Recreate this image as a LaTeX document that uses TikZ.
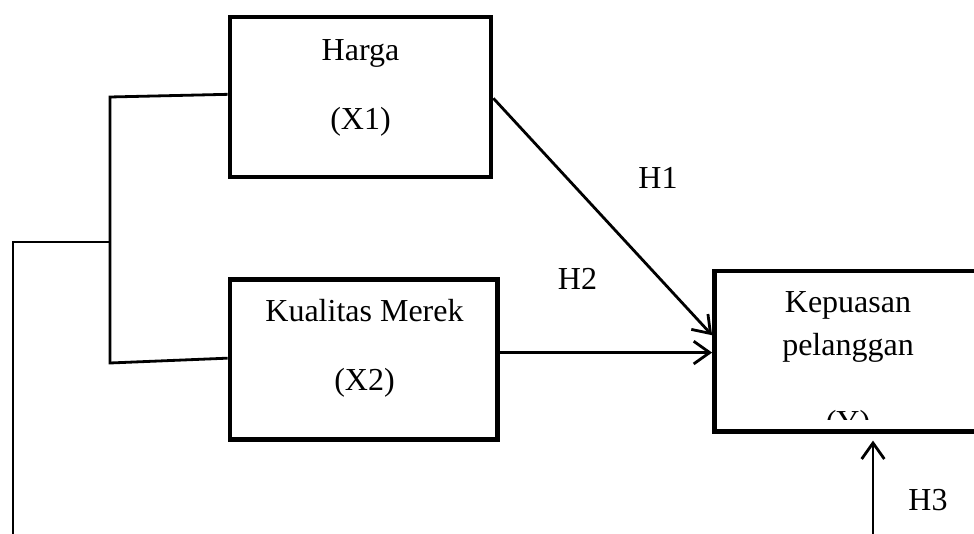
\documentclass[tikz,border=0pt]{standalone}
\usepackage{fontspec}
\setmainfont{Liberation Serif}
\usetikzlibrary{arrows.meta}
\begin{document}
\begin{tikzpicture}[x=0.75pt,y=-0.75pt,
  box/.style={draw, line width=3.6pt, rectangle, inner sep=0pt},
  conn/.style={line width=2.1pt},
  arr/.style={line width=2.1pt, -{Straight Barb[length=12pt,width=17pt,line width=2.1pt]}},
  txt/.style={anchor=base, inner sep=0pt, font=\fontsize{24pt}{29pt}\selectfont}]
\clip (0,0) rectangle (974,534);
\fill[white] (0,0) rectangle (974,534);
% boxes
\node[box, minimum width=195.75pt, minimum height=120pt] (harga) at (360.5,97) {};
\node[box, minimum width=200.6pt, minimum height=120pt] (kual) at (363.75,359.5) {};
\node[box, minimum width=225pt, minimum height=120.4pt] (kep) at (864.5,351.25) {};
% texts
\node[txt] (t1) at (360.5,61) {Harga};
\node[txt] (t2) at (360.5,130) {(X1)};
\node[txt] (t3) at (364.5,322) {Kualitas Merek};
\node[txt] (t4) at (364.5,391) {(X2)};
\node[txt] (t5) at (848,313) {Kepuasan};
\node[txt] (t6) at (848,356) {pelanggan};
\begin{scope}
\clip (700,380) rectangle (1000,419);
\node[txt] (t7) at (848,432) {(Y)};
\end{scope}
\node[txt] (h1) at (658,189) {H1};
\node[txt] (h2) at (577.5,290) {H2};
\node[txt] (h3) at (928,510) {H3};
% left bracket
\coordinate (bt) at (110,97);
\coordinate (bb) at (110,363);
\coordinate (bm) at (110,242);
\coordinate (lm) at (13,242);
\coordinate (lb) at (13,545);
\draw[conn] ([yshift=2pt]harga.west) -- (bt) -- (bb) -- ([yshift=1pt]kual.west);
\draw[conn] (bm) -- (lm) -- (lb);
% arrows
\draw[arr] ([yshift=-1pt]harga.east) -- ([yshift=12pt]kep.west);
\draw[arr] ([yshift=-1pt]kep.west -| kual.east) -- ([yshift=-1pt]kep.west);
\coordinate (h3s) at (873,545);
\draw[arr, shorten >=5pt] (h3s) -- (h3s |- kep.south);
\end{tikzpicture}
\end{document}
